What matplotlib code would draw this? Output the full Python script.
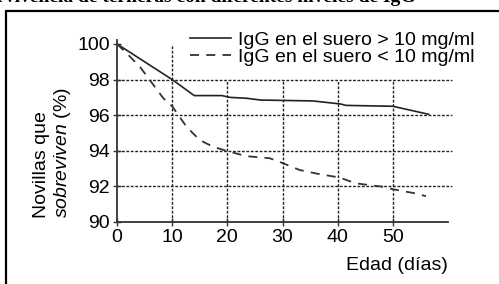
import matplotlib
matplotlib.use("Agg")
import matplotlib.pyplot as plt
from matplotlib.patches import Rectangle

plt.rcParams['font.family'] = ['Liberation Sans', 'DejaVu Sans']
plt.rcParams['mathtext.fontset'] = 'custom'
plt.rcParams['mathtext.it'] = 'Liberation Sans:italic'
plt.rcParams['mathtext.rm'] = 'Liberation Sans'

# serum IgG > 10 mg/ml
age_hi = [0, 10, 14, 19, 20.5, 23.5, 26, 35.5, 40.5, 41.5, 50, 56.5]
surv_hi = [100, 98, 97.1, 97.1, 97.0, 96.95, 96.85, 96.8, 96.63, 96.55, 96.5, 96.05]
# serum IgG < 10 mg/ml
age_lo = [0, 2, 4.2, 6, 8.4, 10, 12.6, 15, 17.4, 19.8, 23.4, 27.7, 30.1,
          33.1, 36.5, 40.3, 43.3, 48.2, 50, 54.2, 56]
surv_lo = [100, 99.4, 98.7, 97.95, 96.95, 96.5, 95.35, 94.6, 94.23, 94.0, 93.7,
           93.58, 93.3, 92.92, 92.7, 92.5, 92.17, 91.98, 91.84, 91.6, 91.45]

labels = ["IgG en el suero > 10 mg/ml", "IgG en el suero < 10 mg/ml"]
xticks = [0, 10, 20, 30, 40, 50]
yticks = [90, 92, 94, 96, 98, 100]
grid_y = [92, 94, 96, 98]
grid_x = [10, 20, 30, 40, 50]

W, H = 499, 284
fig = plt.figure(figsize=(W / 100, H / 100), dpi=100)

# frame around the figure (cut off on the right and bottom)
fig.patches.append(Rectangle((6 / W, -0.2), 1.2, 1.2 - 11 / H, transform=fig.transFigure,
                             fill=False, lw=1.6, ec='black'))
# caption above the frame, mostly cut off in the original
fig.text(-45 / W, 1 - 1.5 / H, "Supervivencia de terneras con diferentes niveles de IgG",
         family='Liberation Serif', weight='bold', fontsize=14, va='baseline')

ax = fig.add_axes([117 / W, (H - 222) / H, 331 / W, (222 - 40.4) / H])
ax.set_xlim(0, 60)
ax.set_ylim(90, 100.2)

gs = dict(color='#222222', lw=1.0, linestyle=(0, (2, 1.2)), zorder=1)
ax.hlines(grid_y, 0, 60.8, clip_on=False, **gs)
for gx in grid_x:
    ax.vlines(gx, 90, 100 if gx == 10 else 98, **gs)

l1, = ax.plot(age_hi, surv_hi, color='#222222', lw=1.2, zorder=3)
l2, = ax.plot(age_lo, surv_lo, color='#333333', lw=1.3, linestyle=(0, (5, 4)), zorder=3)

for s in ['top', 'right']:
    ax.spines[s].set_visible(False)
for s in ['left', 'bottom']:
    ax.spines[s].set_linewidth(1.3)
    ax.spines[s].set_color('#333333')

ax.set_xticks(xticks)
ax.set_yticks(yticks)
ax.tick_params(direction='inout', length=6, width=1, labelsize=14, color='#333333', pad=2)

ax.legend([l1, l2], labels, loc='upper left', bbox_to_anchor=(190 / W, 1 - 31 / H),
          bbox_transform=fig.transFigure, frameon=False, fontsize=14, borderpad=0,
          borderaxespad=0, handlelength=2.1, handletextpad=0.35, labelspacing=0.0)

fig.text(448 / W, 1 - 266 / H, "Edad (días)", ha='right', va='center', fontsize=14)
fig.text(41 / W, 1 - 218 / H, "Novillas que", rotation=90, ha='center', va='bottom', fontsize=14)
fig.text(63 / W, 1 - 218 / H, r"$\it{sobreviven}$ (%)", rotation=90, ha='center', va='bottom',
         fontsize=14)

fig.savefig("out.png", dpi=100)
